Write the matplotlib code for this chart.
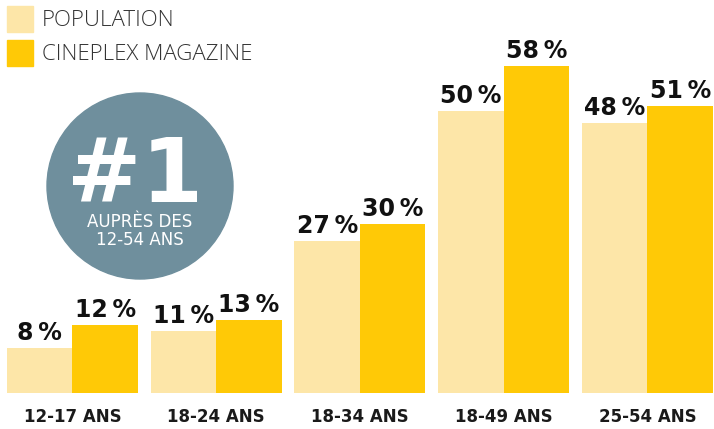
import matplotlib
matplotlib.use('Agg')
from matplotlib import pyplot as plt
from matplotlib.patches import Circle, Rectangle
import numpy as np

groups = ['12-17 ANS', '18-24 ANS', '18-34 ANS', '18-49 ANS', '25-54 ANS']
population = [8, 11, 27, 50, 48]
cineplex = [12, 13, 30, 58, 51]
series_names = ['POPULATION', 'CINEPLEX MAGAZINE']

light = '#FDE6A8'
gold = '#FFC906'
slate = '#6F8F9D'

plt.rcParams['font.family'] = ['DejaVu Sans']

fig = plt.figure(figsize=(7.14, 4.29), dpi=100)
ax = fig.add_axes([0, 0, 1, 1])
ax.axis('off')

x = np.arange(len(groups))
w = 0.456
ax.bar(x - w / 2, population, w, color=light, linewidth=0)
ax.bar(x + w / 2, cineplex, w, color=gold, linewidth=0)
ax.set_xlim(-0.504, 4.463)
ax.set_ylim(-6.39, 69.8)

for xi, p, c in zip(x, population, cineplex):
    for xx, v in [(xi - w / 2, p), (xi + w / 2, c)]:
        ax.annotate('%d\u2009%%' % v, (xx, v), xytext=(0, 8), textcoords='offset pixels',
                    ha='center', va='baseline', fontsize=17, fontweight='bold',
                    color='#111111')
    ax.annotate(groups[xi], (xi, 0), xytext=(0, -24), textcoords='offset pixels',
                ha='center', va='center', fontsize=12, fontweight='bold', color='#1a1a1a')

# legend swatches and labels, placed in inches from the top-left corner
H = 4.29
for i, (name, col) in enumerate(zip(series_names, [light, gold])):
    top = 0.06 + i * 0.34
    fig.patches.append(Rectangle((0.07, H - top - 0.26), 0.26, 0.26, color=col,
                                 transform=fig.dpi_scale_trans, figure=fig))
    fig.text(0.42 / 7.14, 1 - (top + 0.14) / H, name, fontsize=16, fontweight='light',
             family=['Open Sans', 'DejaVu Sans'], color='#333333', va='center', ha='left')

# badge
fig.patches.append(Circle((1.40, H - 1.86), 0.93, color=slate,
                          transform=fig.dpi_scale_trans, figure=fig))
fig.text(1.35 / 7.14, 1 - 2.02 / H, '#1', fontsize=64, fontweight='bold',
         color='white', ha='center', va='baseline')
fig.text(1.40 / 7.14, 1 - 2.22 / H, 'AUPRÈS DES', fontsize=12, fontweight='normal',
         color='white', ha='center', va='center')
fig.text(1.40 / 7.14, 1 - 2.40 / H, '12-54 ANS', fontsize=12, fontweight='normal',
         color='white', ha='center', va='center')

fig.savefig('out.png', dpi=100)
